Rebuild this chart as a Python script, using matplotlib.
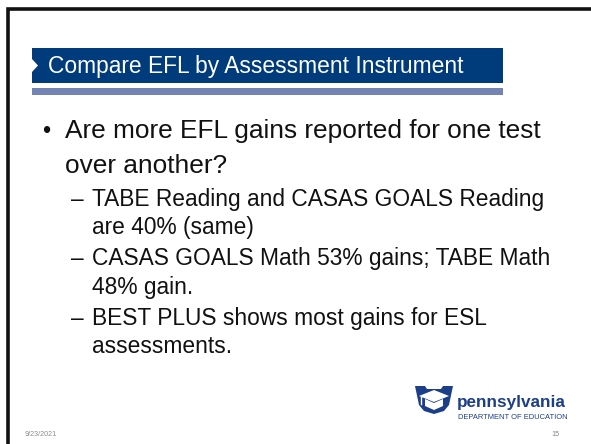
import matplotlib
matplotlib.use("Agg")
import matplotlib.pyplot as plt
from matplotlib.patches import Rectangle, Polygon

# ---- content ----
title = "Compare EFL by Assessment Instrument"
main_bullet = ["Are more EFL gains reported for one test", "over another?"]
sub_bullets = [
    ["TABE Reading and CASAS GOALS Reading", "are 40% (same)"],
    ["CASAS GOALS Math 53% gains; TABE Math", "48% gain."],
    ["BEST PLUS shows most gains for ESL", "assessments."],
]
footer_date = "9/23/2021"
page_number = "15"
logo_name = "pennsylvania"
logo_sub = "DEPARTMENT OF EDUCATION"

NAVY = "#003b7b"
BAR = "#7383b3"
FONT = "Liberation Sans"
INK = "#111111"

W, H = 591, 444
fig = plt.figure(figsize=(W / 100, H / 100), dpi=100)
ax = fig.add_axes([0, 0, 1, 1])
ax.set_xlim(0, W)
ax.set_ylim(H, 0)
ax.axis("off")

# frame (top and left lines)
ax.plot([8, 8, W], [H, 9, 9], color="#111111", lw=2.6, solid_capstyle="butt",
        solid_joinstyle="miter")

# title banner
ax.add_patch(Rectangle((32, 48), 471, 35, color=NAVY, lw=0))
ax.add_patch(Rectangle((32, 88), 471, 7, color=BAR, lw=0))
ax.add_patch(Polygon([(32, 59), (38, 65.5), (32, 72)], closed=True, color="white", lw=0))
ax.text(48, 66, title, color="white", fontsize=16.4, family=FONT, va="center", ha="left")

# main bullet
ax.text(42, 138, "\u2022", fontsize=17, family=FONT, va="baseline", color=INK)
for i, line in enumerate(main_bullet):
    ax.text(65, 138 + i * 35, line, fontsize=18.9, family=FONT, va="baseline", color=INK)

# sub bullets
baselines = [(206, 234), (265, 294), (325, 353)]
for lines, bl in zip(sub_bullets, baselines):
    ax.text(71, bl[0], "\u2013", fontsize=16.4, family=FONT, va="baseline", color=INK)
    for line, y in zip(lines, bl):
        ax.text(92, y, line, fontsize=16.4, family=FONT, va="baseline", color=INK)

# logo
key = [(415, 386), (425, 386), (427, 389), (441, 389), (443, 386), (453, 386),
       (449, 405), (444, 411), (434, 414), (424, 411), (419, 405)]
ax.add_patch(Polygon(key, closed=True, color="#1d3f8a", lw=0))
ax.add_patch(Polygon([(419, 396), (434, 390), (449, 396), (434, 402)], closed=True,
                     color="white", lw=0))
ax.add_patch(Polygon([(425, 399), (434, 403), (443, 399), (443, 406), (434, 410), (425, 406)],
                     closed=True, color="white", lw=0))
ax.plot([421, 421], [397, 404], color="white", lw=1)
ax.text(457, 407, logo_name, fontsize=12.3, family=FONT, weight="bold", color="#1d3f8a",
        va="baseline")
ax.text(458, 419, logo_sub, fontsize=5.4, family=FONT, color="#1d3f8a", va="baseline")

# footer
ax.text(25, 436, footer_date, fontsize=5.2, family=FONT, color="#8c8c8c", va="baseline")
ax.text(560, 436, page_number, fontsize=5.2, family=FONT, color="#8c8c8c", va="baseline",
        ha="right")

fig.savefig("out.png", dpi=100)
